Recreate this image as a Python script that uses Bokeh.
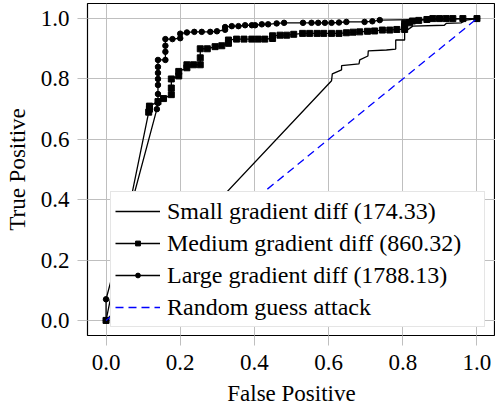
from bokeh.plotting import figure
from bokeh.models import Range1d, FixedTicker, PrintfTickFormatter, Legend, LegendItem
from bokeh.embed import file_html
from bokeh.resources import INLINE

# ---- data ----
ticks = [0.0, 0.2, 0.4, 0.6, 0.8, 1.0]

small_label = "Small gradient diff (174.33)"
small_x = [0.0, 0.608, 0.61, 0.635, 0.635, 0.682, 0.684, 0.706, 0.707, 0.756, 0.781, 0.781,
           0.805, 0.805, 0.827, 0.912, 0.917, 0.957, 0.971, 1.0]
small_y = [0.0, 0.794, 0.817, 0.83, 0.844, 0.85, 0.863, 0.876, 0.893, 0.896, 0.899, 0.929,
           0.929, 0.956, 0.975, 0.978, 0.984, 0.986, 0.995, 1.0]

medium_label = "Medium gradient diff (860.32)"
medium_x = [0.0, 0.115, 0.117, 0.117, 0.14, 0.155, 0.176, 0.176, 0.176, 0.196, 0.196, 0.218,
            0.218, 0.236, 0.254, 0.254, 0.254, 0.273, 0.294, 0.312, 0.33, 0.33, 0.352, 0.372,
            0.393, 0.41, 0.428, 0.449, 0.449, 0.469, 0.487, 0.506, 0.53, 0.549, 0.569, 0.587,
            0.608, 0.628, 0.648, 0.666, 0.684, 0.705, 0.724, 0.745, 0.765, 0.784, 0.805, 0.805,
            0.805, 0.818, 0.826, 0.843, 0.865, 0.881, 0.899, 0.917, 0.935, 0.962, 1.0]
medium_y = [0.0, 0.69, 0.70, 0.71, 0.725, 0.735, 0.748, 0.77, 0.80, 0.81, 0.825, 0.837,
            0.847, 0.847, 0.847, 0.87, 0.90, 0.90, 0.907, 0.91, 0.918, 0.929, 0.932, 0.932,
            0.932, 0.932, 0.932, 0.934, 0.943, 0.945, 0.945, 0.948, 0.951, 0.951, 0.951, 0.951,
            0.951, 0.951, 0.953, 0.955, 0.956, 0.958, 0.959, 0.962, 0.962, 0.964, 0.964, 0.975,
            0.984, 0.986, 0.992, 0.994, 0.997, 1.0, 1.0, 1.0, 1.0, 1.0, 1.0]

large_label = "Large gradient diff (1788.13)"
large_x = [0.0, 0.0, 0.137, 0.14, 0.14, 0.14, 0.14, 0.14, 0.14, 0.14, 0.16, 0.16, 0.16, 0.16,
           0.179, 0.2, 0.2, 0.218, 0.238, 0.258, 0.281, 0.299, 0.321, 0.321, 0.339, 0.357,
           0.375, 0.393, 0.402, 0.42, 0.437, 0.46, 0.48, 0.531, 0.554, 0.572, 0.59, 0.608,
           0.628, 0.648, 0.697, 0.718, 0.738, 1.0]
large_y = [0.0, 0.07, 0.70, 0.72, 0.75, 0.78, 0.80, 0.82, 0.84, 0.863, 0.863, 0.89, 0.91, 0.932,
           0.932, 0.935, 0.95, 0.954, 0.956, 0.956, 0.956, 0.958, 0.963, 0.972, 0.975, 0.975,
           0.978, 0.978, 0.978, 0.981, 0.981, 0.984, 0.986, 0.986, 0.986, 0.986, 0.986, 0.986,
           0.987, 0.989, 0.989, 0.991, 0.995, 1.0]

random_label = "Random guess attack"
random_x = [0.0, 1.0]
random_y = [0.0, 1.0]

FONT = "Liberation Serif"
GRID = "#bfbfbf"

p = figure(width=495, height=408, output_backend="svg", toolbar_location=None,
           x_range=Range1d(-0.05, 1.05), y_range=Range1d(-0.05, 1.05),
           min_border_left=87, min_border_right=0, min_border_top=3, min_border_bottom=70,
           x_axis_label="False Positive", y_axis_label="True Positive")
p.background_fill_color = "white"
p.border_fill_color = "white"
p.outline_line_color = "black"
p.outline_line_width = 1.2

for ax in (p.xaxis[0], p.yaxis[0]):
    ax.ticker = FixedTicker(ticks=ticks)
    ax.formatter = PrintfTickFormatter(format="%.1f")
    ax.major_label_text_font = FONT
    ax.major_label_text_font_size = "23px"
    ax.major_label_text_color = "black"
    ax.axis_label_text_font = FONT
    ax.axis_label_text_font_size = "23px"
    ax.axis_label_text_font_style = "normal"
    ax.axis_label_text_color = "black"
    ax.axis_line_color = None
    ax.major_tick_line_color = GRID
    ax.major_tick_out = 10
    ax.major_tick_in = 0
    ax.minor_tick_line_color = None
p.xaxis[0].major_label_standoff = 9
p.yaxis[0].major_label_standoff = 8
p.xaxis[0].axis_label_standoff = 8
p.yaxis[0].axis_label_standoff = 8

for g in (p.xgrid[0], p.ygrid[0]):
    g.ticker = FixedTicker(ticks=ticks)
    g.grid_line_color = GRID
    g.grid_line_width = 1

r_small = p.line(small_x, small_y, line_color="black", line_width=1.3)

r_med_l = p.line(medium_x, medium_y, line_color="black", line_width=1.3)
r_med_m = p.scatter(medium_x, medium_y, marker="square", size=6,
                    fill_color="black", line_color="black")

r_large_l = p.line(large_x, large_y, line_color="black", line_width=1.3)
r_large_m = p.scatter(large_x, large_y, marker="circle", size=5.5,
                      fill_color="black", line_color="black")

r_rand = p.line(random_x, random_y, line_color="#0000ff", line_width=1.3, line_dash="8 5")

legend = Legend(items=[
    LegendItem(label=small_label, renderers=[r_small]),
    LegendItem(label=medium_label, renderers=[r_med_l, r_med_m]),
    LegendItem(label=large_label, renderers=[r_large_l, r_large_m]),
    LegendItem(label=random_label, renderers=[r_rand]),
], location=(23, 8))
legend.label_text_font = FONT
legend.label_text_font_size = "24px"
legend.label_text_color = "black"
legend.glyph_width = 45
legend.glyph_height = 12
legend.label_height = 30
legend.label_width = 313
legend.label_standoff = 7
legend.spacing = 2
legend.padding = 4
legend.margin = 0
legend.border_line_color = "#cccccc"
legend.border_line_width = 1
legend.background_fill_color = "white"
legend.background_fill_alpha = 1.0
p.add_layout(legend)

open("out.html", "w").write(file_html(p, INLINE))
